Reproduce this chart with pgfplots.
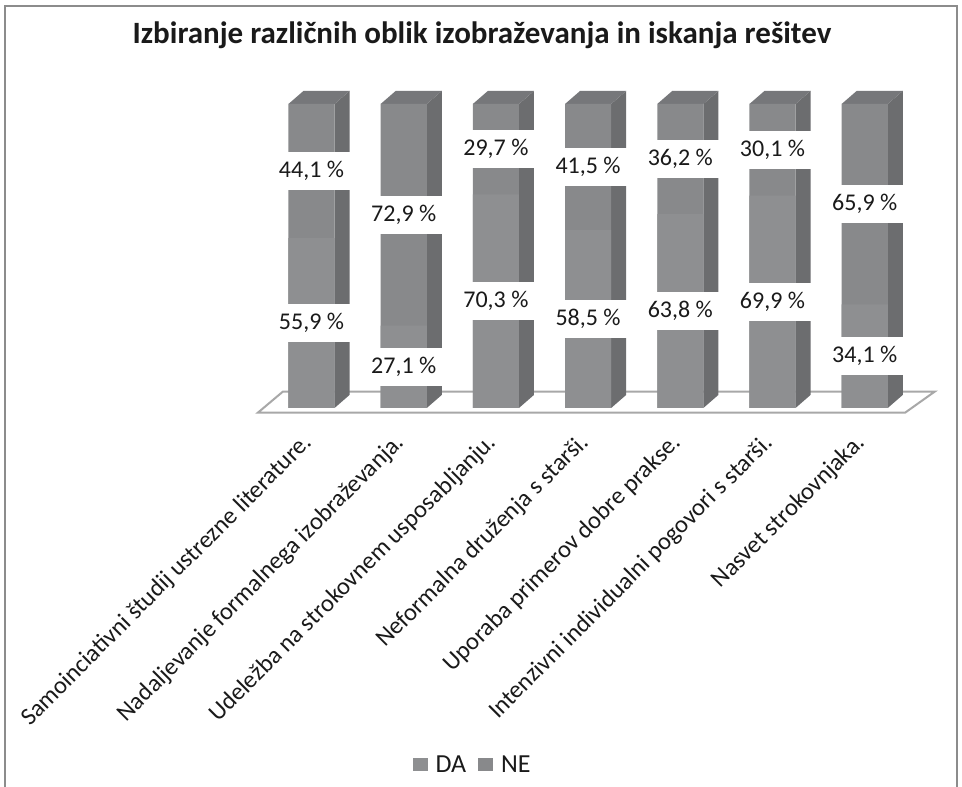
\documentclass[border=0pt]{standalone}
\usepackage{fontspec}
\setmainfont{Carlito}
\usepackage{pgfplots}
\usepackage{pgfplotstable}
\pgfplotsset{compat=1.18}
\definecolor{frontDA}{HTML}{8E8F91}
\definecolor{frontNE}{HTML}{88898B}
\definecolor{sidec}{HTML}{6C6D6F}
\definecolor{topc}{HTML}{76777A}
\definecolor{floorc}{HTML}{A8A8A8}
\definecolor{framec}{HTML}{8C8C8C}
\definecolor{txt}{HTML}{1A1A1A}

\pgfplotstableread{
x DA NE
0 55.9 44.1
1 27.1 72.9
2 70.3 29.7
3 58.5 41.5
4 63.8 36.2
5 69.9 30.1
6 34.1 65.9
}\data

\begin{document}
\begin{tikzpicture}
\useasboundingbox (0,0) rectangle (962pt,787pt);
\fill[white] (0,0) rectangle (962pt,787pt);
\draw[framec, line width=2pt] (5pt,-2pt) -- (5pt,781pt) -- (957pt,781pt) -- (957pt,-2pt);
\node[font=\fontsize{31}{35}\selectfont\bfseries, text=txt] at (482pt,752pt) {Izbiranje različnih oblik izobraževanja in iskanja rešitev};
\begin{axis}[
  anchor=origin, at={(311.5pt,379pt)},
  x=92.2pt, y=3.04pt,
  xmin=-0.7, xmax=6.9, ymin=-3, ymax=106,
  clip=false,
  axis line style={draw=none},
  major tick length=0pt,
  ytick=\empty,
  xtick={0,...,6},
  xticklabels={Samoinciativni študij ustrezne literature.,
    Nadaljevanje formalnega izobraževanja.,
    Udeležba na strokovnem usposabljanju.,
    Neformalna druženja s starši.,
    Uporaba primerov dobre prakse.,
    Intenzivni individualni pogovori s starši.,
    Nasvet strokovnjaka.},
  xticklabel style={yshift=-22pt, xshift=-3pt, rotate=45, anchor=east, font=\fontsize{24.5}{28}\selectfont, inner sep=0pt, text=txt},
  /pgf/number format/.cd, use comma, fixed, fixed zerofill, precision=1, assume math mode=true,
  /pgfplots/.cd,
  legend image code/.code={\fill[#1] (0pt,-6pt) rectangle (15pt,7pt); \path (21pt,0pt);},
  legend style={at={(0.322,-1.05)}, anchor=center, draw=none, fill=none,
    legend columns=2, font=\fontsize{26}{30}\selectfont, text=txt,
    /tikz/every even column/.append style={column sep=10pt}},
]
% floor
\addplot[fill=white, draw=floorc, line width=2pt, forget plot] coordinates {(-0.58,-1.5) (6.44,-1.5) (6.76,5.4) (-0.31,5.4)} -- cycle;
% side faces
\addplot[fill=sidec, draw=none, forget plot] coordinates {(0.25,0) (0.413,4.3) (0.413,104.3) (0.25,100)} -- cycle;
\addplot[fill=sidec, draw=none, forget plot] coordinates {(1.25,0) (1.413,4.3) (1.413,104.3) (1.25,100)} -- cycle;
\addplot[fill=sidec, draw=none, forget plot] coordinates {(2.25,0) (2.413,4.3) (2.413,104.3) (2.25,100)} -- cycle;
\addplot[fill=sidec, draw=none, forget plot] coordinates {(3.25,0) (3.413,4.3) (3.413,104.3) (3.25,100)} -- cycle;
\addplot[fill=sidec, draw=none, forget plot] coordinates {(4.25,0) (4.413,4.3) (4.413,104.3) (4.25,100)} -- cycle;
\addplot[fill=sidec, draw=none, forget plot] coordinates {(5.25,0) (5.413,4.3) (5.413,104.3) (5.25,100)} -- cycle;
\addplot[fill=sidec, draw=none, forget plot] coordinates {(6.25,0) (6.413,4.3) (6.413,104.3) (6.25,100)} -- cycle;
% top faces
\addplot[fill=topc, draw=none, forget plot] coordinates {(-0.25,100) (0.25,100) (0.413,104.3) (-0.087,104.3)} -- cycle;
\addplot[fill=topc, draw=none, forget plot] coordinates {(0.75,100) (1.25,100) (1.413,104.3) (0.913,104.3)} -- cycle;
\addplot[fill=topc, draw=none, forget plot] coordinates {(1.75,100) (2.25,100) (2.413,104.3) (1.913,104.3)} -- cycle;
\addplot[fill=topc, draw=none, forget plot] coordinates {(2.75,100) (3.25,100) (3.413,104.3) (2.913,104.3)} -- cycle;
\addplot[fill=topc, draw=none, forget plot] coordinates {(3.75,100) (4.25,100) (4.413,104.3) (3.913,104.3)} -- cycle;
\addplot[fill=topc, draw=none, forget plot] coordinates {(4.75,100) (5.25,100) (5.413,104.3) (4.913,104.3)} -- cycle;
\addplot[fill=topc, draw=none, forget plot] coordinates {(5.75,100) (6.25,100) (6.413,104.3) (5.913,104.3)} -- cycle;
% front faces: NE spans DA..100, DA spans 0..DA
\addplot[ybar, bar width=0.5, bar shift=0pt, fill=frontNE, draw=none, forget plot] table[x=x, y expr=\thisrow{DA}+\thisrow{NE}] {\data};
\addplot[ybar, bar width=0.5, bar shift=0pt, fill=frontDA, draw=none, forget plot] table[x=x, y=DA] {\data};
% value labels
\addplot[draw=none, mark=none, forget plot, point meta=explicit,
  nodes near coords={\pgfmathprintnumber{\pgfplotspointmeta}~\%},
  every node near coord/.style={fill=white, minimum width=80pt, minimum height=38pt, anchor=center, inner sep=0pt, font=\fontsize{24}{28}\selectfont, text=txt}]
  table[x=x, y expr=\thisrow{DA}/2, meta=DA] {\data};
\addplot[draw=none, mark=none, forget plot, point meta=explicit,
  nodes near coords={\pgfmathprintnumber{\pgfplotspointmeta}~\%},
  every node near coord/.style={fill=white, minimum width=80pt, minimum height=38pt, anchor=center, inner sep=0pt, font=\fontsize{24}{28}\selectfont, text=txt}]
  table[x=x, y expr=\thisrow{DA}+\thisrow{NE}/2, meta=NE] {\data};
\addlegendimage{fill=frontDA, draw=none}
\addlegendentry{DA}
\addlegendimage{fill=frontNE, draw=none}
\addlegendentry{NE}
\end{axis}
\end{tikzpicture}
\end{document}
